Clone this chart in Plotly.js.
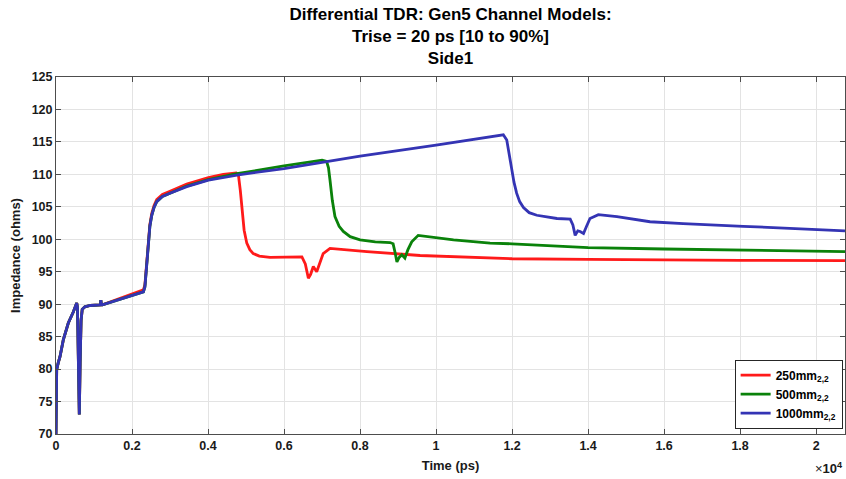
<!DOCTYPE html>
<html>
<head>
<meta charset="utf-8">
<script src="https://cdn.plot.ly/plotly-3.0.1.min.js"></script>
<style>html,body{margin:0;padding:0;background:#fff;}#chart{width:846px;height:479px;}</style>
</head>
<body>
<div id="chart"></div>
<script>
// Time in ps, impedance in ohms
const tCommon = [0, 5, 18, 60, 105, 192, 324, 455, 545, 565, 590, 613, 635, 660, 690, 760, 900, 1100, 1165, 1180, 1195, 1220];
const zCommon = [70, 76, 79.9, 81.0, 81.9, 84.5, 87.1, 88.8, 90.2, 89.5, 83, 73, 81, 87.5, 89.2, 89.6, 89.8, 89.8, 89.9, 90.6, 89.9, 89.9];

const t250 = [2300, 2340, 2390, 2430, 2470, 2520, 2580, 2650, 2800, 3000, 3440, 4010, 4400, 4740, 4800, 4850, 4890, 4950, 5020, 5100, 5190, 5350, 5630, 6000, 6470, 6560, 6640, 6700, 6770, 6860, 6950, 7030, 7210, 8180, 9580, 12000, 14000, 16000, 18000, 20760];
const z250 = [92.2, 93.0, 96.5, 99.8, 102.3, 104.0, 105.2, 106.1, 106.9, 107.4, 108.5, 109.5, 110.0, 110.2, 109.9, 107.5, 104.5, 101.4, 99.4, 98.4, 97.8, 97.4, 97.2, 97.2, 97.3, 96.2, 94.0, 94.6, 95.8, 95.0, 96.6, 97.8, 98.6, 98.1, 97.5, 97.0, 96.9, 96.8, 96.75, 96.7];

const t500 = [2300, 2340, 2390, 2430, 2470, 2520, 2580, 2650, 2800, 3000, 3440, 4010, 4760, 6000, 7000, 7120, 7170, 7210, 7270, 7340, 7450, 7560, 7740, 8000, 8400, 8790, 8870, 8920, 8970, 9030, 9100, 9180, 9260, 9360, 9530, 10460, 11420, 12000, 14000, 16000, 18000, 20760];
const z500 = [91.9, 92.7, 96.2, 99.4, 102.0, 103.7, 104.9, 105.8, 106.6, 107.1, 108.2, 109.2, 110.1, 111.3, 112.2, 112.0, 111.0, 109.1, 106.0, 103.5, 102.0, 101.2, 100.4, 99.9, 99.6, 99.5, 99.3, 98.0, 96.5, 97.2, 97.6, 97.1, 98.4, 99.6, 100.6, 99.9, 99.4, 99.3, 98.7, 98.5, 98.3, 98.1];

const t1000 = [2300, 2340, 2390, 2430, 2470, 2520, 2580, 2650, 2800, 3000, 3440, 4010, 4760, 6000, 8000, 10000, 11160, 11770, 11860, 11920, 11990, 12050, 12120, 12200, 12300, 12450, 12650, 13180, 13530, 13600, 13660, 13730, 13790, 13880, 13960, 14050, 14270, 14760, 15630, 16500, 18080, 20760];
const z1000 = [91.9, 92.7, 96.2, 99.4, 102.0, 103.7, 104.9, 105.8, 106.6, 107.1, 108.1, 109.1, 109.9, 110.9, 112.8, 114.5, 115.5, 116.1, 115.3, 113.2, 110.7, 108.8, 107.1, 105.8, 104.9, 104.1, 103.7, 103.2, 103.1, 102.2, 100.6, 101.3, 101.2, 100.9, 102.0, 103.2, 103.8, 103.5, 102.7, 102.4, 102.0, 101.3];

const seriesNames = ['250mm<sub>2,2</sub>', '500mm<sub>2,2</sub>', '1000mm<sub>2,2</sub>'];
const seriesColors = ['#ff1a1a', '#0a820a', '#3434b4'];

const xTickVals = [0, 2000, 4000, 6000, 8000, 10000, 12000, 14000, 16000, 18000, 20000];
const xTickText = ['0', '0.2', '0.4', '0.6', '0.8', '1', '1.2', '1.4', '1.6', '1.8', '2'];
const yTickVals = [70, 75, 80, 85, 90, 95, 100, 105, 110, 115, 120, 125];

const xs = [tCommon.concat(t250), tCommon.concat(t500), tCommon.concat(t1000)];
const ys = [zCommon.concat(z250), zCommon.concat(z500), zCommon.concat(z1000)];

const traces = xs.map((x, i) => ({
  x: x, y: ys[i], type: 'scatter', mode: 'lines', name: seriesNames[i],
  line: {color: seriesColors[i], width: 2.8}
}));

const fontFam = 'Liberation Sans, Arial, sans-serif';
const axisCommon = {
  showline: true, linecolor: '#4d4d4d', linewidth: 1, mirror: 'allticks',
  ticks: 'inside', ticklen: 5, tickcolor: '#4d4d4d',
  showgrid: true, gridcolor: '#e3e3e3', gridwidth: 1, zeroline: false,
  tickfont: {family: fontFam, size: 12.5, color: '#1a1a1a', weight: 'bold'}
};

const layout = {
  width: 846, height: 479,
  margin: {l: 56, r: 1, t: 77, b: 45},
  paper_bgcolor: '#fff', plot_bgcolor: '#fff',
  font: {family: fontFam, color: '#000'},
  title: {
    text: '<b>Differential TDR: Gen5 Channel Models:<br>Trise = 20 ps [10 to 90%]<br>Side1</b>',
    font: {family: fontFam, size: 17, color: '#000'},
    x: 0.5, xref: 'paper', xanchor: 'center',
    y: 1, yref: 'paper', yanchor: 'bottom', pad: {b: 57}
  },
  xaxis: Object.assign({}, axisCommon, {
    range: [0, 20760], tickmode: 'array', tickvals: xTickVals, ticktext: xTickText,
    title: {text: '<b>Time (ps)</b>', font: {family: fontFam, size: 13, color: '#1a1a1a'}, standoff: 8}
  }),
  yaxis: Object.assign({}, axisCommon, {
    range: [70, 125], tickmode: 'array', tickvals: yTickVals,
    title: {text: '<b>Impedance (ohms)</b>', font: {family: fontFam, size: 13, color: '#1a1a1a'}, standoff: 8}
  }),
  showlegend: true,
  legend: {
    x: 0.997, xanchor: 'right', y: 0.015, yanchor: 'bottom',
    bgcolor: '#fff', bordercolor: '#262626', borderwidth: 1,
    font: {family: fontFam, size: 12, color: '#000', weight: 'bold'},
    tracegroupgap: 0
  },
  annotations: [{
    xref: 'paper', yref: 'paper', x: 1.0, y: -0.095, xanchor: 'right', yanchor: 'middle',
    text: '×<b>10</b><sup><b>4</b></sup>', showarrow: false,
    font: {family: fontFam, size: 13, color: '#1a1a1a'}
  }]
};

Plotly.newPlot('chart', traces, layout, {displayModeBar: false, staticPlot: true});
</script>
</body>
</html>
